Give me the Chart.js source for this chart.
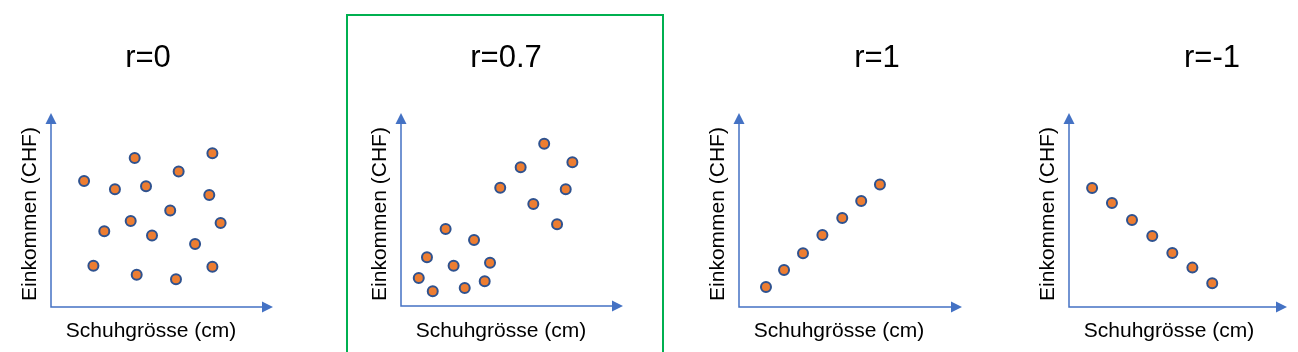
<!DOCTYPE html>
<html>
<head>
<meta charset="utf-8">
<script src="https://cdn.jsdelivr.net/npm/chart.js@4.4.1/dist/chart.umd.min.js"></script>
<style>
    html, body { margin: 0; padding: 0; background: #fff; }
    #wrap { position: relative; width: 1298px; height: 352px; overflow: hidden; }
    #wrap canvas { position: absolute; left: 0; top: 0; }
    #frame {
        position: absolute; left: 346px; top: 14px;
        width: 314px; height: 360px;
        border: 2px solid #00B050;
    }
</style>
</head>
<body>
<div id="wrap">
    <div id="frame"></div>
    <canvas id="c0" width="1298" height="352"></canvas>
    <canvas id="c1" width="1298" height="352"></canvas>
    <canvas id="c2" width="1298" height="352"></canvas>
    <canvas id="c3" width="1298" height="352"></canvas>
</div>
<script>
// Werte in Achseneinheiten (0..10)
const titles = ["r=0", "r=0.7", "r=1", "r=-1"];
const xLabel = "Schuhgrösse (cm)";
const yLabel = "Einkommen (CHF)";

const r0X = [1.49, 3.77, 7.27, 5.75, 2.88, 4.28, 7.13, 5.37, 3.59, 7.64, 2.40, 4.55, 6.49, 1.91, 3.86, 7.27, 5.63];
const r0Y = [6.49, 7.68, 7.92, 6.99, 6.07, 6.22, 5.77, 4.98, 4.43, 4.33, 3.90, 3.68, 3.25, 2.13, 1.66, 2.08, 1.43];

const r07X = [6.45, 7.72, 5.39, 4.47, 7.42, 5.96, 7.03, 2.01, 3.29, 1.17, 4.01, 2.37, 0.80, 3.77, 1.43, 2.87];
const r07Y = [8.41, 7.45, 7.19, 6.13, 6.05, 5.28, 4.23, 3.99, 3.42, 2.52, 2.24, 2.09, 1.45, 1.28, 0.76, 0.93];

const r1X = [1.21, 2.02, 2.87, 3.74, 4.63, 5.48, 6.32];
const r1Y = [1.03, 1.91, 2.77, 3.71, 4.59, 5.46, 6.32];

const rm1X = [1.06, 1.97, 2.89, 3.82, 4.74, 5.66, 6.57];
const rm1Y = [6.13, 5.36, 4.48, 3.66, 2.78, 2.03, 1.22];

// Lage der Achsen je Panel (Seitenpixel): links, rechts, oben, unten, Titelmitte
const panels = [
    { id: "c0", xs: r0X,  ys: r0Y,  left: 51,   right: 273,  top: 113, bottom: 307, titleX: 148 },
    { id: "c1", xs: r07X, ys: r07Y, left: 401,  right: 623,  top: 113, bottom: 306, titleX: 506 },
    { id: "c2", xs: r1X,  ys: r1Y,  left: 739,  right: 962,  top: 113, bottom: 307, titleX: 877 },
    { id: "c3", xs: rm1X, ys: rm1Y, left: 1069, right: 1287, top: 113, bottom: 307, titleX: 1212 }
];

const AXIS_COLOR = "#4472C4";
const FONT = "'Liberation Sans', Arial, sans-serif";

const decoPlugin = {
    id: "deco",
    beforeDatasetsDraw(chart, args, opts) {
        const ctx = chart.ctx;
        const a = chart.chartArea;
        const head = 11, half = 5.5;
        ctx.save();
        ctx.strokeStyle = AXIS_COLOR;
        ctx.fillStyle = AXIS_COLOR;
        ctx.lineWidth = 1.5;
        // Achsenlinien
        ctx.beginPath();
        ctx.moveTo(a.left, a.top + head);
        ctx.lineTo(a.left, a.bottom);
        ctx.lineTo(a.right - head, a.bottom);
        ctx.stroke();
        // Pfeilspitzen
        ctx.beginPath();
        ctx.moveTo(a.left, a.top);
        ctx.lineTo(a.left - half, a.top + head);
        ctx.lineTo(a.left + half, a.top + head);
        ctx.closePath();
        ctx.fill();
        ctx.beginPath();
        ctx.moveTo(a.right, a.bottom);
        ctx.lineTo(a.right - head, a.bottom - half);
        ctx.lineTo(a.right - head, a.bottom + half);
        ctx.closePath();
        ctx.fill();

        // Texte
        ctx.fillStyle = "#000";
        ctx.textAlign = "center";
        ctx.textBaseline = "alphabetic";
        ctx.font = "31px " + FONT;
        ctx.fillText(opts.title, opts.titleX, 67);
        ctx.font = "21px " + FONT;
        ctx.fillText(xLabel, a.left + 100, 337);
        ctx.translate(a.left - 15, 214);
        ctx.rotate(-Math.PI / 2);
        ctx.fillText(yLabel, 0, 0);
        ctx.restore();
    }
};

panels.forEach((p, i) => {
    const ctx = document.getElementById(p.id).getContext("2d");
    new Chart(ctx, {
        type: "scatter",
        data: {
            datasets: [{
                data: p.xs.map((x, k) => ({ x: x, y: p.ys[k] })),
                backgroundColor: "#ED7D31",
                borderColor: "#2F528F",
                borderWidth: 2,
                pointRadius: 5,
                clip: false
            }]
        },
        options: {
            responsive: false,
            animation: false,
            layout: {
                padding: {
                    left: p.left,
                    right: 1298 - p.right,
                    top: p.top,
                    bottom: 352 - p.bottom
                }
            },
            scales: {
                x: { display: false, min: 0, max: 10 },
                y: { display: false, min: 0, max: 10 }
            },
            plugins: {
                legend: { display: false },
                tooltip: { enabled: false },
                deco: { title: titles[i], titleX: p.titleX }
            }
        },
        plugins: [decoPlugin]
    });
});
</script>
</body>
</html>
